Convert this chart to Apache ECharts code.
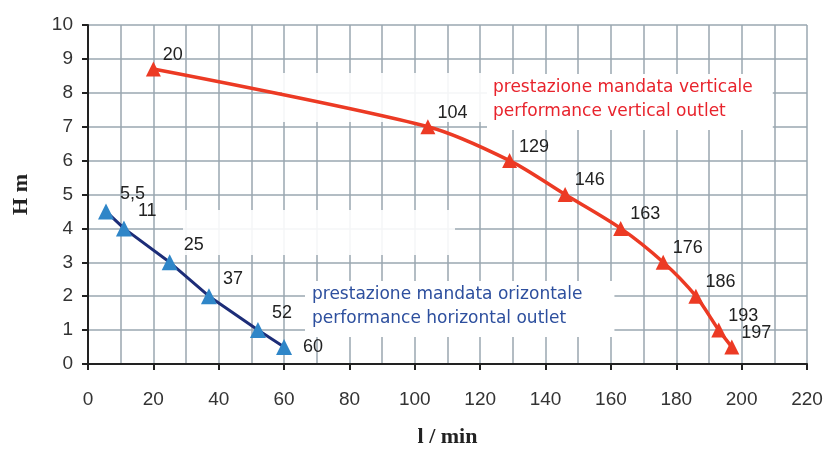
<!DOCTYPE html>
<html>
<head>
<meta charset="utf-8">
<script src="https://cdn.jsdelivr.net/npm/echarts@6/dist/echarts.min.js"></script>
<style>
  html, body { margin: 0; padding: 0; background: #fff; }
  #main { width: 829px; height: 453px; }
</style>
</head>
<body>
<div id="main"></div>
<script>
// portata l/min e prevalenza H m
var verticalFlow = [20, 104, 129, 146, 163, 176, 186, 193, 197];
var verticalHead = [8.7, 7.0, 6.0, 5.0, 4.0, 3.0, 2.0, 1.0, 0.5];
var horizontalFlow = [5.5, 11, 25, 37, 52, 60];
var horizontalHead = [4.5, 4.0, 3.0, 2.0, 1.0, 0.5];

var xTicks = [0, 20, 40, 60, 80, 100, 120, 140, 160, 180, 200, 220];
var yTicks = [0, 1, 2, 3, 4, 5, 6, 7, 8, 9, 10];

var verticalText = ['prestazione mandata verticale', 'performance vertical outlet'];
var horizontalText = ['prestazione mandata orizontale', 'performance horizontal outlet'];

function pairs(xs, ys) {
  return xs.map(function (x, i) { return [x, ys[i]]; });
}

var gridColor = '#9aa7b0';
var tickFont = { fontFamily: 'Liberation Sans', fontSize: 19, color: '#333' };

var myChart = echarts.init(document.getElementById('main'));

var hData = pairs(horizontalFlow, horizontalHead);
// ultimo punto: etichetta a destra
hData[hData.length - 1] = {
  value: hData[hData.length - 1],
  label: { position: 'right', offset: [6, 0] }
};

myChart.setOption({
  animation: false,
  grid: { left: 88, right: 22, top: 25, bottom: 85 },
  xAxis: {
    type: 'value',
    min: xTicks[0],
    max: xTicks[xTicks.length - 1],
    interval: 20,
    name: 'l / min',
    nameLocation: 'middle',
    nameGap: 62,
    nameTextStyle: { fontFamily: 'Liberation Serif', fontWeight: 'bold', fontSize: 22, color: '#222' },
    axisLine: { lineStyle: { color: '#222', width: 2 } },
    axisTick: { show: true, length: 6, lineStyle: { color: '#222', width: 2 } },
    axisLabel: Object.assign({ margin: 26 }, tickFont),
    splitLine: { show: true, lineStyle: { color: gridColor, width: 1.5 } },
    minorTick: { show: false, splitNumber: 2 },
    minorSplitLine: { show: true, lineStyle: { color: gridColor, width: 1.5 } }
  },
  yAxis: {
    type: 'value',
    min: yTicks[0],
    max: yTicks[yTicks.length - 1],
    interval: 1,
    name: 'H m',
    nameLocation: 'middle',
    nameGap: 56,
    nameRotate: 90,
    nameTextStyle: { fontFamily: 'Liberation Serif', fontWeight: 'bold', fontSize: 22, color: '#222' },
    axisLine: { show: true, lineStyle: { color: '#222', width: 2 } },
    axisTick: { show: true, length: 6, lineStyle: { color: '#222', width: 2 } },
    axisLabel: Object.assign({ margin: 15 }, tickFont),
    splitLine: { show: true, lineStyle: { color: gridColor, width: 1.5 } }
  },
  graphic: [
    { type: 'rect', z: 1, shape: { x: 183, y: 210, width: 272, height: 45 }, style: { fill: 'rgba(255,255,255,0.9)' } },
    { type: 'rect', z: 1, shape: { x: 282, y: 73, width: 205, height: 49 }, style: { fill: 'rgba(255,255,255,0.9)' } },
    {
      type: 'text', z: 10, left: 487, top: 74,
      style: {
        text: verticalText.join('\n'),
        fill: '#e8232c',
        font: '17px "DejaVu Sans"',
        lineHeight: 24,
        backgroundColor: '#fff',
        padding: [2, 20, 6, 6]
      }
    },
    {
      type: 'text', z: 10, left: 305, top: 281,
      style: {
        text: horizontalText.join('\n'),
        fill: '#2d4f9e',
        font: '17px "DejaVu Sans"',
        lineHeight: 24,
        backgroundColor: '#fff',
        padding: [2, 32, 6, 7]
      }
    }
  ],
  series: [
    {
      name: 'verticale',
      type: 'line',
      smooth: 0.3,
      data: pairs(verticalFlow, verticalHead),
      symbol: 'triangle',
      symbolSize: 15,
      lineStyle: { color: '#ec3a24', width: 3.5 },
      itemStyle: { color: '#ec3a24' },
      label: {
        show: true,
        position: 'right',
        offset: [-3, -14],
        fontFamily: 'Liberation Sans',
        fontSize: 18,
        color: '#222',
        formatter: function (p) { return String(p.value[0]).replace('.', ','); }
      }
    },
    {
      name: 'orizzontale',
      type: 'line',
      data: hData,
      symbol: 'triangle',
      symbolSize: 16,
      lineStyle: { color: '#1d2d78', width: 3 },
      itemStyle: { color: '#2f86c8' },
      label: {
        show: true,
        position: 'right',
        offset: [1, -17],
        fontFamily: 'Liberation Sans',
        fontSize: 18,
        color: '#222',
        formatter: function (p) { return String(p.value[0]).replace('.', ','); }
      }
    }
  ]
});
</script>
</body>
</html>
